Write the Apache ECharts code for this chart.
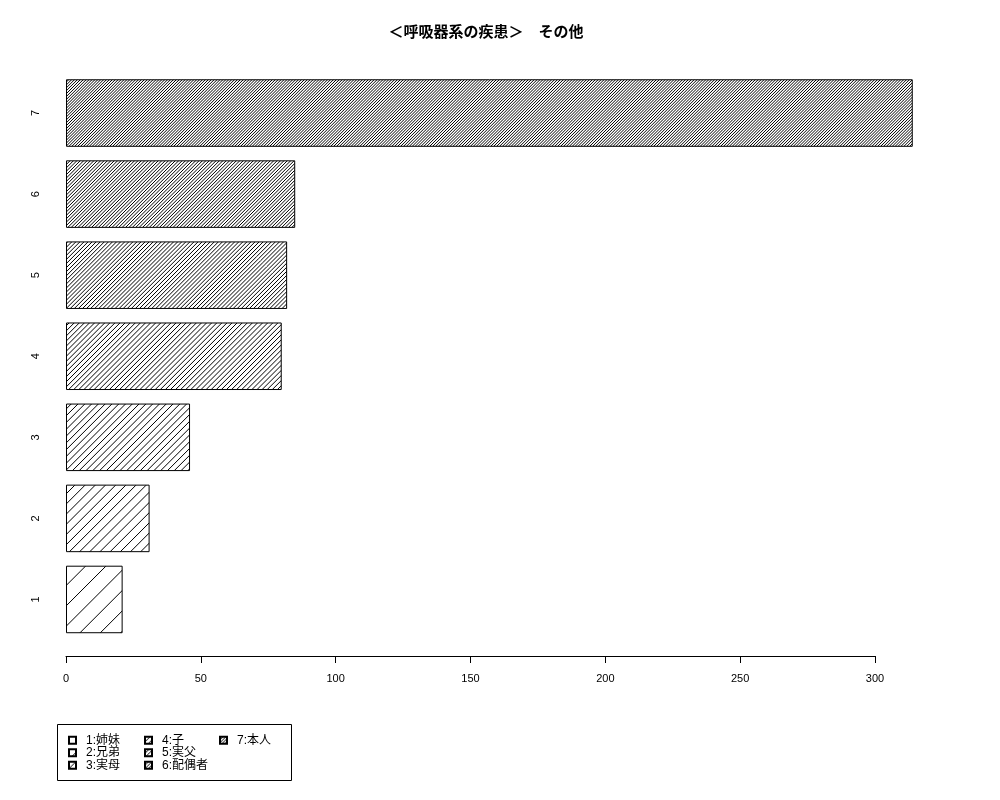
<!DOCTYPE html>
<html>
<head>
<meta charset="utf-8">
<script src="https://cdn.jsdelivr.net/npm/echarts@6/dist/echarts.min.js"></script>
<style>html,body{margin:0;padding:0;background:#fff;}#c{width:1000px;height:800px;}</style>
</head>
<body>
<div id="c"></div>
<script>
const categories = ['1','2','3','4','5','6','7'];
const seriesNames = ['1:姉妹','2:兄弟','3:実母','4:子','5:実父','6:配偶者','7:本人'];
const values = [21, 31, 46, 80, 82, 85, 314];
const densities = [5, 10, 15, 20, 25, 30, 35];
const xTicks = [0, 50, 100, 150, 200, 250, 300];
const titleText = '＜呼吸器系の疾患＞　その他';

function hatch(density) {
  const c = document.createElement('canvas');
  c.width = 1000; c.height = 1000;
  const g = c.getContext('2d');
  g.strokeStyle = '#000';
  g.lineWidth = 1;
  const step = 72 * Math.SQRT2 / density;
  g.beginPath();
  for (let k = 0; k * step < 2000; k++) {
    const cc = k * step;
    g.moveTo(cc, 0);
    g.lineTo(0, cc);
  }
  g.stroke();
  return { image: c, repeat: 'repeat' };
}

const series = seriesNames.map((name, i) => {
  const data = categories.map((c, j) => (j === i ? values[i] : null));
  return {
    name: name,
    type: 'bar',
    stack: 'all',
    data: data,
    barWidth: '83.3%',
    clip: false,
    silent: true,
    emphasis: { disabled: true },
    itemStyle: { color: hatch(densities[i]), borderColor: '#000', borderWidth: 1 }
  };
});

const legendStyle = {
  orient: 'vertical',
  itemWidth: 7,
  itemHeight: 7,
  itemGap: 0,
  selectedMode: false,
  icon: 'rect',
  textStyle: { fontSize: 12, lineHeight: 12.5, color: '#000', fontFamily: 'Liberation Sans, "Noto Sans CJK JP", sans-serif', padding: [0, 0, 0, 5] }
};

const chart = echarts.init(document.getElementById('c'));
chart.setOption({
  animation: false,
  backgroundColor: '#fff',
  title: {
    text: titleText,
    left: 481,
    top: 19,
    textAlign: 'center',
    textStyle: { fontSize: 15, fontWeight: 'bold', color: '#000', fontFamily: '"Noto Sans CJK JP", sans-serif' }
  },
  grid: { left: 66, right: 125, top: 72.5, bottom: 160, containLabel: false },
  xAxis: {
    type: 'value',
    min: xTicks[0],
    max: xTicks[xTicks.length - 1],
    interval: 50,
    offset: 16,
    axisLine: { show: true, lineStyle: { color: '#000', width: 1 } },
    axisTick: { show: true, length: 7, lineStyle: { color: '#000' } },
    axisLabel: { margin: 17, fontSize: 11, color: '#000', fontFamily: 'Liberation Sans, sans-serif' },
    splitLine: { show: false }
  },
  yAxis: {
    type: 'category',
    data: categories,
    axisLine: { show: false },
    axisTick: { show: false },
    axisLabel: { rotate: 90, margin: 25, fontSize: 11, color: '#000', fontFamily: 'Liberation Sans, sans-serif' }
  },
  legend: [
    Object.assign({ data: seriesNames.slice(0, 3), left: 63, top: 729 }, legendStyle),
    Object.assign({ data: seriesNames.slice(3, 6), left: 139, top: 729 }, legendStyle),
    Object.assign({ data: seriesNames.slice(6, 7), left: 214, top: 729 }, legendStyle)
  ],
  graphic: [{
    type: 'rect',
    shape: { x: 57.5, y: 724.5, width: 234, height: 56 },
    style: { fill: 'none', stroke: '#000', lineWidth: 1 },
    silent: true
  }],
  series: series
});
</script>
</body>
</html>
